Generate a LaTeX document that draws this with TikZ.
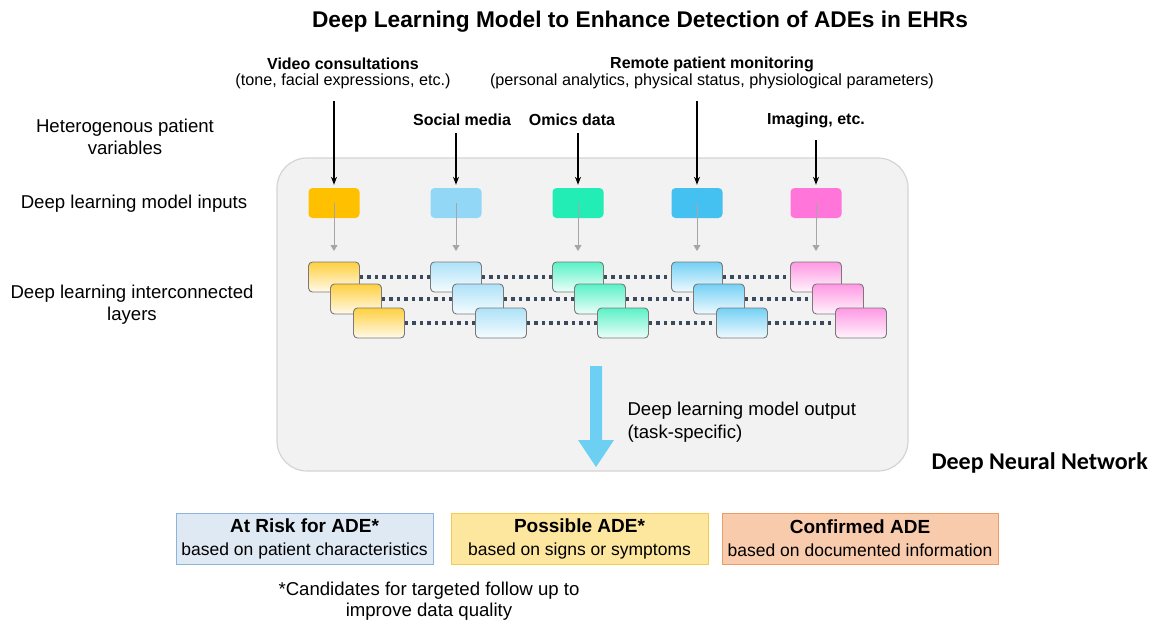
\documentclass[tikz,border=0pt]{standalone}
\usepackage{fontspec}
\setmainfont{Liberation Sans}
\newfontfamily\calibrifont{Carlito}
\usetikzlibrary{positioning,arrows.meta}

\definecolor{panelfill}{HTML}{F2F2F2}
\definecolor{paneledge}{HTML}{D4D4D4}
\definecolor{inorange}{HTML}{FFC000}
\definecolor{inskyblue}{HTML}{92D8F6}
\definecolor{ingreen}{HTML}{22EDB4}
\definecolor{inblue}{HTML}{45C1F1}
\definecolor{inpink}{HTML}{FF75DA}
\definecolor{linkslate}{HTML}{3C4A5E}
\definecolor{outblue}{HTML}{6DCFF2}
\definecolor{riskfill}{HTML}{DEE9F4}
\definecolor{riskedge}{HTML}{8DB4DE}
\definecolor{possfill}{HTML}{FDE79E}
\definecolor{possedge}{HTML}{F6C94F}
\definecolor{conffill}{HTML}{F8CBAD}
\definecolor{confedge}{HTML}{EE9C66}

\begin{document}
\begin{tikzpicture}[x=1pt,y=-1pt,>=Stealth,
  lefttext/.style={align=center, font=\fontsize{18.6}{22}\selectfont},
  srctitle/.style={font=\bfseries\fontsize{16}{19}\selectfont},
  srcnote/.style={font=\fontsize{16.2}{19}\selectfont},
  inbox/.style={rounded corners=4pt, minimum width=51pt, minimum height=30pt, inner sep=0pt},
  layerbox/.style={draw=gray!95!black, line width=0.9pt, rounded corners=4pt,
    minimum width=51pt, minimum height=30pt, inner sep=0pt},
  feed/.style={->, line width=1.1pt, shorten >=3pt},
  pass/.style={-{Triangle[width=7pt,length=6pt]}, draw=gray!70, line width=1pt},
  link/.style={draw=linkslate, line width=3.5pt, dash pattern=on 3.5pt off 4pt},
  adebox/.style={line width=1pt, minimum width=257pt, minimum height=51pt, align=center,
    font=\fontsize{17.5}{23}\selectfont}
]
\useasboundingbox (0,0) rectangle (1149,622);

% Title
\node[font=\bfseries\fontsize{22.7}{26}\selectfont] (title) at (640,22)
  {Deep Learning Model to Enhance Detection of ADEs in EHRs};

%%%%%%%%%%%%%%%%%%%%%%%%%%%%%%%%%%%%%%%%%%
% Row labels on the left
\node[lefttext] (varlabel) at (125,137) {Heterogenous patient\\variables};
\node[lefttext] (inlabel) at (134,204) {Deep learning model inputs};
\node[lefttext] (layerlabel) at (132,305) {Deep learning interconnected\\layers};

% Panel of the network
\node[draw=paneledge, fill=panelfill, line width=1.2pt, rounded corners=30pt,
  minimum width=631pt, minimum height=313pt] (dnn) at (592.5,314.5) {};

%%%%%%%%%%%%%%%%%%%%%%%%%%%%%%%%%%%%%%%%%%
% Patient variables
\node[srctitle] (video) at (343,64) {Video consultations};
\node[srcnote] (videonote) at (343,81) {(tone, facial expressions, etc.)};
\node[srctitle] (remote) at (712,64) {Remote patient monitoring};
\node[srcnote] (remotenote) at (712,81)
  {(personal analytics, physical status, physiological parameters)};
\node[srctitle] (social) at (462,120) {Social media};
\node[srctitle] (omics) at (572,120) {Omics data};
\node[srctitle] (imaging) at (816,120) {Imaging, etc.};

% Model inputs
\node[inbox, fill=inorange] (in1) at (334,203) {};
\node[inbox, fill=inskyblue] (in2) at (456,203) {};
\node[inbox, fill=ingreen] (in3) at (578,203) {};
\node[inbox, fill=inblue] (in4) at (697,203) {};
\node[inbox, fill=inpink] (in5) at (816,203) {};

\draw[feed] (in1.north |- 0,101) -- (in1.north);
\draw[feed] (in2.north |- social.south) ++(0,4) -- (in2.north);
\draw[feed] (in3.north |- omics.south) ++(0,4) -- (in3.north);
\draw[feed] (in4.north |- 0,101) -- (in4.north);
\draw[feed] (in5.north |- imaging.south) ++(0,9) -- (in5.north);

%%%%%%%%%%%%%%%%%%%%%%%%%%%%%%%%%%%%%%%%%%
% Interconnected layers
\foreach \c/\x/\col in {1/334/inorange, 2/456/inskyblue, 3/578/ingreen,
                        4/697/inblue, 5/816/inpink} {
  \node[layerbox, top color=\col!75!white, bottom color=\col!8!white]
    (L\c1) at (\x,277) {};
  \node[layerbox, top color=\col!75!white, bottom color=\col!8!white]
    (L\c2) at (\x+22,299) {};
  \node[layerbox, top color=\col!75!white, bottom color=\col!8!white]
    (L\c3) at (\x+45,323) {};
  \draw[pass] (in\c.center) -- ++(0,48);
}
\foreach \c [evaluate=\c as \n using int(\c+1)] in {1,...,4} {
  \foreach \r in {1,2,3}
    \draw[link] (L\c\r.east) -- (L\n\r.west);
}

% Model output
\fill[outblue] (590,366) -- (602,366) -- (602,440) -- (614,440)
  -- (596,467) -- (578,440) -- (590,440) -- cycle;
\node[anchor=west, align=left, font=\fontsize{18.6}{23}\selectfont] (outtext) at (624,422)
  {Deep learning model output\\(task-specific)};

\node[anchor=west, font=\calibrifont\bfseries\fontsize{24}{28}\selectfont] (dnnlabel)
  at (928,463) {Deep Neural Network};

%%%%%%%%%%%%%%%%%%%%%%%%%%%%%%%%%%%%%%%%%%
% ADE categories
\node[adebox, fill=riskfill, draw=riskedge] (risk) at (304.5,538.5)
  {{\bfseries\fontsize{19}{23}\selectfont At Risk for ADE*}\\based on patient characteristics};
\node[adebox, fill=possfill, draw=possedge] (possible) at (579.5,538.5)
  {{\bfseries\fontsize{19}{23}\selectfont Possible ADE*}\\based on signs or symptoms};
\node[adebox, fill=conffill, draw=confedge, minimum width=276pt] (confirmed) at (860,538.5)
  {{\bfseries\fontsize{19}{23}\selectfont Confirmed ADE}\\based on documented information};

\node[align=center, font=\fontsize{18.6}{21}\selectfont] (footnote) at (429,601)
  {*Candidates for targeted follow up to\\improve data quality};

\end{tikzpicture}
\end{document}
